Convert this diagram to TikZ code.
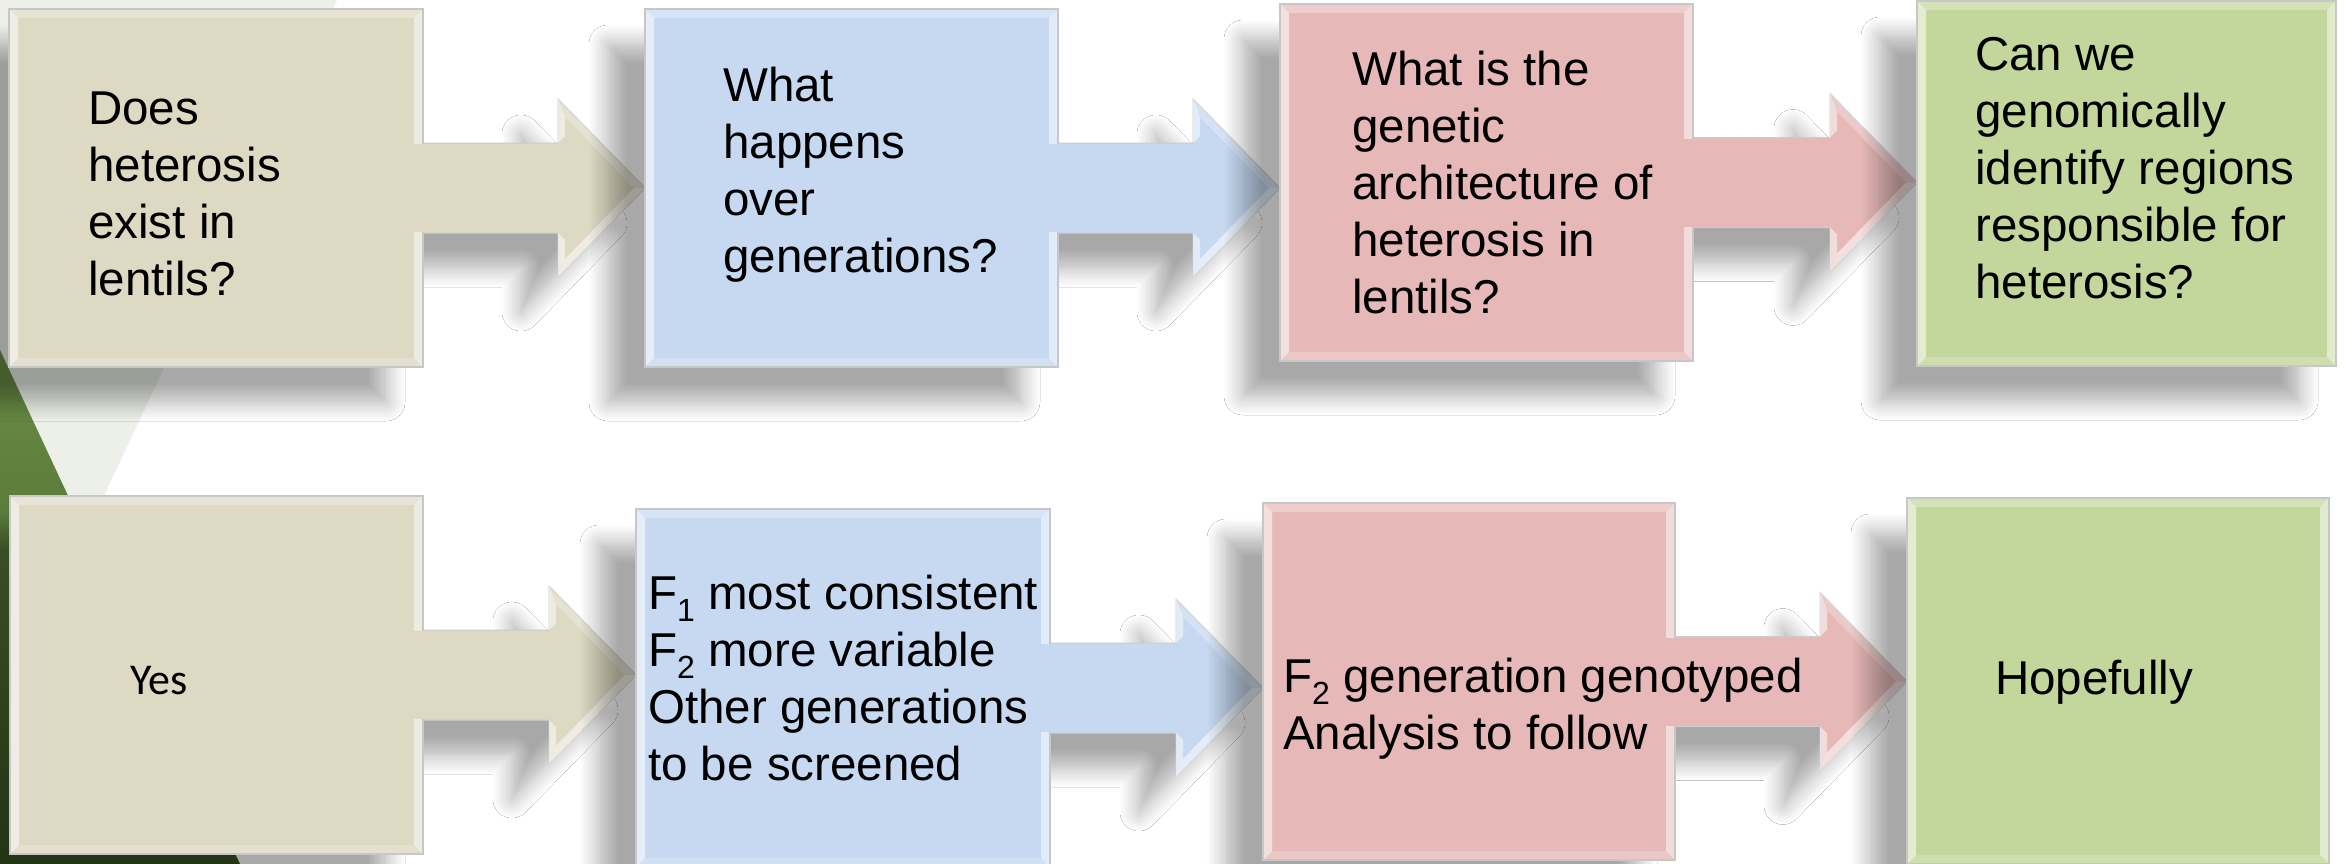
\documentclass[tikz,border=0pt]{standalone}
\usepackage{fontspec}
\setmainfont{Liberation Sans}
\newfontfamily\calibfont{Carlito}
\usetikzlibrary{calc,shadows.blur}

\definecolor{tanbox}{HTML}{DDD9C3}
\definecolor{bluebox}{HTML}{C6D9F1}
\definecolor{pinkbox}{HTML}{E6B9B8}
\definecolor{greenbox}{HTML}{C3D69B}
\definecolor{paleback}{HTML}{EDF0E9}
\definecolor{greenlight}{HTML}{6C8F47}
\definecolor{greendark}{HTML}{34511F}

\newcommand{\fl}{\rule{0pt}{40pt}}
\newcommand{\sbs}[1]{\raisebox{-0.26em}{\fontsize{32}{32}\selectfont #1}}

\newcommand{\blockarrow}[3]{%
  \path[fill=#3, draw=black!20, line width=1pt, shadowed] let \p1=(#1.east), \p2=(#2.west) in
    (\x1-10pt,\y1+45pt) -- (\x2-87pt,\y1+45pt) -- (\x2-87pt,\y1+89pt) -- (\x2,\y1)
    -- (\x2-87pt,\y1-89pt) -- (\x2-87pt,\y1-45pt) -- (\x1-10pt,\y1-45pt) -- cycle;
  \fill[white,opacity=0.55] let \p1=(#1.east), \p2=(#2.west) in
    (\x2-87pt,\y1-89pt) -- (\x2,\y1) -- (\x2-11pt,\y1) -- (\x2-80pt,\y1-71pt) -- cycle;
  \fill[white,opacity=0.25] let \p1=(#1.east), \p2=(#2.west) in
    (\x2-87pt,\y1+89pt) -- (\x2,\y1) -- (\x2-11pt,\y1) -- (\x2-80pt,\y1+71pt) -- cycle;
  \fill[white,opacity=0.5] let \p1=(#1.east), \p2=(#2.west) in
    (\x2-87pt,\y1-89pt) -- (\x2-80pt,\y1-71pt) -- (\x2-80pt,\y1-52pt) -- (\x2-87pt,\y1-45pt) -- cycle
    (\x2-87pt,\y1+89pt) -- (\x2-80pt,\y1+71pt) -- (\x2-80pt,\y1+52pt) -- (\x2-87pt,\y1+45pt) -- cycle;
}
\newcommand{\drawbox}[2]{\path[qbox, fill=#2] (#1.north west) rectangle (#1.south east);}
\newcommand{\stub}[2]{\fill[#2] ($(#1.east)+(-9,-44)$) rectangle ($(#1.east)+(0.5,44)$);}

\begin{document}
\begin{tikzpicture}[x=1pt,y=-1pt,
  shadowed/.style={blur shadow={shadow xshift=-37pt, shadow yshift=-35pt,
      shadow blur radius=19pt, shadow opacity=34, shadow blur steps=10}},
  boxshape/.style={rectangle, inner sep=0pt, outer sep=0pt},
  qbox/.style={draw=black!22, line width=1.2pt, shadowed,
    path picture={
      \fill[white,opacity=0.55] (path picture bounding box.north west) -- ++(9,9)
        -- ($(path picture bounding box.south west)+(9,-9)$) -- (path picture bounding box.south west) -- cycle;
      \fill[white,opacity=0.5] (path picture bounding box.north east) -- ++(-9,9)
        -- ($(path picture bounding box.south east)+(-9,-9)$) -- (path picture bounding box.south east) -- cycle;
      \fill[white,opacity=0.3] (path picture bounding box.north west) -- (path picture bounding box.north east)
        -- ++(-9,9) -- ($(path picture bounding box.north west)+(9,9)$) -- cycle;
      \fill[white,opacity=0.2] (path picture bounding box.south west) -- (path picture bounding box.south east)
        -- ++(-9,-9) -- ($(path picture bounding box.south west)+(9,-9)$) -- cycle;
    }},
  qtext/.style={anchor=north west, inner sep=0pt, align=left, font={\fontsize{47.5}{57}\selectfont}},
]
\useasboundingbox (0,0) rectangle (2349,864);

% background
\fill[white] (0,0) rectangle (2349,864);
\fill[paleback] (0,0) -- (337,0) -- (0,717) -- cycle;
\shade[top color=greenlight, bottom color=greendark] (0,350) -- (240,864) -- (0,864) -- cycle;

% box nodes (geometry)
\node[boxshape, minimum width=414pt, minimum height=358pt] (t1) at (216,188) {};
\node[boxshape, minimum width=413pt, minimum height=358pt] (t2) at (851.5,188) {};
\node[boxshape, minimum width=413pt, minimum height=357pt] (t3) at (1486.5,182.5) {};
\node[boxshape, minimum width=419pt, minimum height=365pt] (t4) at (2126.5,183.5) {};
\node[boxshape, minimum width=413pt, minimum height=358pt] (b1) at (216.5,675) {};
\node[boxshape, minimum width=414pt, minimum height=358pt] (b2) at (843,688) {};
\node[boxshape, minimum width=412pt, minimum height=357pt] (b3) at (1469,681.5) {};
\node[boxshape, minimum width=422pt, minimum height=366pt] (b4) at (2118,681) {};

% arrows
\blockarrow{t1}{t2}{tanbox}
\blockarrow{t2}{t3}{bluebox}
\blockarrow{t3}{t4}{pinkbox}
\blockarrow{b1}{b2}{tanbox}
\blockarrow{b2}{b3}{bluebox}
\blockarrow{b3}{b4}{pinkbox}

% visible boxes
\drawbox{t1}{tanbox}
\drawbox{t2}{bluebox}
\drawbox{t3}{pinkbox}
\drawbox{t4}{greenbox}
\drawbox{b1}{tanbox}
\drawbox{b2}{bluebox}
\drawbox{b3}{pinkbox}
\drawbox{b4}{greenbox}

\stub{t1}{tanbox}
\stub{t2}{bluebox}
\stub{t3}{pinkbox}
\stub{b1}{tanbox}
\stub{b2}{bluebox}
\stub{b3}{pinkbox}

% texts
\node[qtext] (t1txt) at (88,84) {\fl Does\\heterosis\\exist in\\lentils?};
\node[qtext] (t2txt) at (723,61) {\fl What\\happens\\over\\generations?};
\node[qtext] (t3txt) at (1352,45) {\fl What is the\\genetic\\architecture of\\heterosis in\\lentils?};
\node[qtext] (t4txt) at (1975,30) {\fl Can we\\genomically\\identify regions\\responsible for\\heterosis?};
\node[anchor=base west, inner sep=0pt, font={\calibfont\fontsize{44}{53}\selectfont}] (b1txt) at (130,694) {Yes};
\node[qtext] (b2txt) at (648,569) {\fl F\sbs{1} most consistent\\F\sbs{2} more variable\\Other generations\\to be screened};
\node[qtext] (b3txt) at (1283,652) {\fl F\sbs{2} generation genotyped\\Analysis to follow};
\node[qtext] (b4txt) at (1995,654) {\fl Hopefully};
\end{tikzpicture}
\end{document}
